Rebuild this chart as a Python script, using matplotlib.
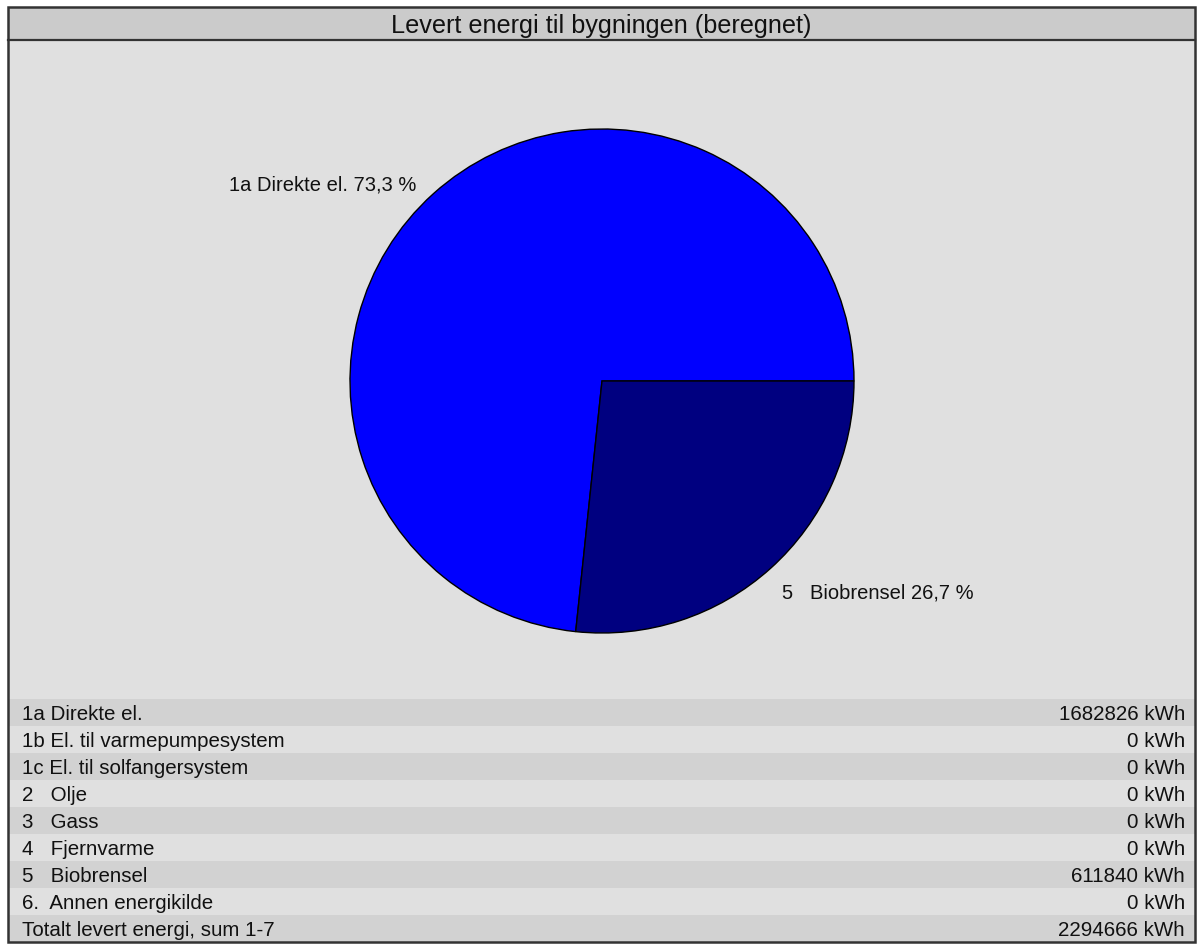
import matplotlib
matplotlib.use("Agg")
import matplotlib.pyplot as plt
from matplotlib.patches import Rectangle

plt.rcParams['font.family'] = ['Liberation Sans', 'DejaVu Sans']

title = "Levert energi til bygningen (beregnet)"

# Rows of the summary table (label, delivered energy in kWh)
row_labels = [
    "1a Direkte el.",
    "1b El. til varmepumpesystem",
    "1c El. til solfangersystem",
    "2   Olje",
    "3   Gass",
    "4   Fjernvarme",
    "5   Biobrensel",
    "6.  Annen energikilde",
]
row_values = [1682826, 0, 0, 0, 0, 0, 611840, 0]
total_label = "Totalt levert energi, sum 1-7"
total_value = 2294666

# Pie slices (non-zero sources only)
pie_names = ["1a Direkte el.", "5   Biobrensel"]
pie_values = [1682826, 611840]
pie_colors = ["#0000ff", "#000080"]

W, H = 1198, 945
fig = plt.figure(figsize=(W / 100, H / 100), dpi=100)
fig.patch.set_facecolor("white")
ax = fig.add_axes([0, 0, 1, 1])


def py(y):
    """Convert a top-down pixel row to data y."""
    return H - y


left, right, top, bottom = 8, 1195, 8, 943
title_bottom = 41
cx, cy, r = 602, 382, 252
pie_text_size = 14.5
table_text_size = 14.8

# body background
ax.add_patch(Rectangle((left, py(bottom)), right - left, bottom - top,
                       facecolor="#e0e0e0", edgecolor="none", zorder=0))
# title band
ax.add_patch(Rectangle((left, py(title_bottom)), right - left, title_bottom - top,
                       facecolor="#cbcbcb", edgecolor="none", zorder=1))
ax.text((left + right) / 2, py((top + title_bottom) / 2 + 2), title,
        ha="center", va="center", fontsize=18.2, color="#111111", zorder=5)
ax.plot([left, right], [py(title_bottom), py(title_bottom)],
        color="#333333", lw=1.6, zorder=6)

# pie chart
total_pie = sum(pie_values)
labels = [f"{n} " + f"{v / total_pie * 100:.1f}".replace(".", ",") + " %"
          for n, v in zip(pie_names, pie_values)]
wedges, texts = ax.pie(pie_values, colors=pie_colors, labels=labels,
                       startangle=0, counterclock=True,
                       center=(cx, py(cy)), radius=r, labeldistance=1.09,
                       wedgeprops=dict(edgecolor="black", linewidth=1.0),
                       textprops=dict(fontsize=pie_text_size, color="#111111"),
                       frame=True)
for t in texts:
    x, y = t.get_position()
    t.set_ha("left" if x > cx else "right")
    t.set_position((x - 4 if x > cx else x - 2, y - 7))
    t.set_zorder(5)
for w in wedges:
    w.set_zorder(3)

ax.set_xlim(0, W)
ax.set_ylim(0, H)
ax.set_aspect("equal")
ax.axis("off")

# summary table
row_top = 700
row_h = (bottom - row_top) / (len(row_labels) + 1)
all_labels = row_labels + [total_label]
all_values = row_values + [total_value]
for i, (lab, val) in enumerate(zip(all_labels, all_values)):
    y0 = row_top + i * row_h
    if i % 2 == 0:
        ax.add_patch(Rectangle((left, py(y0 + row_h)), right - left, row_h,
                               facecolor="#d2d2d2", edgecolor="none", zorder=1))
    yc = py(y0 + row_h / 2 + 1)
    ax.text(22, yc, lab, ha="left", va="center", fontsize=table_text_size,
            color="#111111", zorder=5)
    ax.text(1185, yc, f"{val} kWh", ha="right", va="center",
            fontsize=table_text_size, color="#111111", zorder=5)

# outer frame
ax.add_patch(Rectangle((left, py(bottom)), right - left, bottom - top,
                       facecolor="none", edgecolor="#333333", lw=1.8, zorder=7))

fig.savefig("out.png", dpi=100, facecolor="white")
